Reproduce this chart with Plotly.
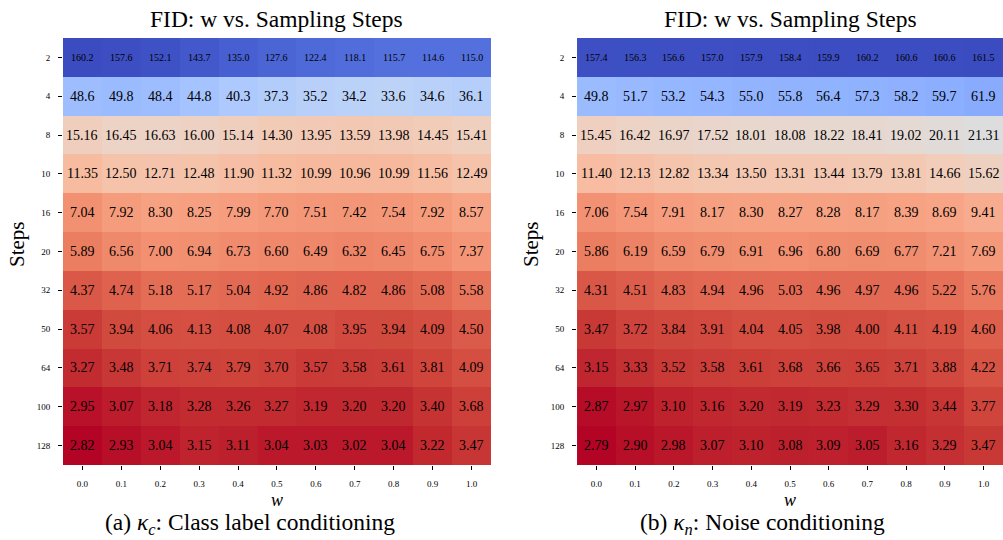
import numpy as np
import plotly.graph_objects as go

w_values = ["0.0", "0.1", "0.2", "0.3", "0.4", "0.5", "0.6", "0.7", "0.8", "0.9", "1.0"]
steps = ["2", "4", "8", "10", "16", "20", "32", "50", "64", "100", "128"]

fid_class = [
    [160.2, 157.6, 152.1, 143.7, 135.0, 127.6, 122.4, 118.1, 115.7, 114.6, 115.0],
    [48.6, 49.8, 48.4, 44.8, 40.3, 37.3, 35.2, 34.2, 33.6, 34.6, 36.1],
    [15.16, 16.45, 16.63, 16.00, 15.14, 14.30, 13.95, 13.59, 13.98, 14.45, 15.41],
    [11.35, 12.50, 12.71, 12.48, 11.90, 11.32, 10.99, 10.96, 10.99, 11.56, 12.49],
    [7.04, 7.92, 8.30, 8.25, 7.99, 7.70, 7.51, 7.42, 7.54, 7.92, 8.57],
    [5.89, 6.56, 7.00, 6.94, 6.73, 6.60, 6.49, 6.32, 6.45, 6.75, 7.37],
    [4.37, 4.74, 5.18, 5.17, 5.04, 4.92, 4.86, 4.82, 4.86, 5.08, 5.58],
    [3.57, 3.94, 4.06, 4.13, 4.08, 4.07, 4.08, 3.95, 3.94, 4.09, 4.50],
    [3.27, 3.48, 3.71, 3.74, 3.79, 3.70, 3.57, 3.58, 3.61, 3.81, 4.09],
    [2.95, 3.07, 3.18, 3.28, 3.26, 3.27, 3.19, 3.20, 3.20, 3.40, 3.68],
    [2.82, 2.93, 3.04, 3.15, 3.11, 3.04, 3.03, 3.02, 3.04, 3.22, 3.47],
]

fid_noise = [
    [157.4, 156.3, 156.6, 157.0, 157.9, 158.4, 159.9, 160.2, 160.6, 160.6, 161.5],
    [49.8, 51.7, 53.2, 54.3, 55.0, 55.8, 56.4, 57.3, 58.2, 59.7, 61.9],
    [15.45, 16.42, 16.97, 17.52, 18.01, 18.08, 18.22, 18.41, 19.02, 20.11, 21.31],
    [11.40, 12.13, 12.82, 13.34, 13.50, 13.31, 13.44, 13.79, 13.81, 14.66, 15.62],
    [7.06, 7.54, 7.91, 8.17, 8.30, 8.27, 8.28, 8.17, 8.39, 8.69, 9.41],
    [5.86, 6.19, 6.59, 6.79, 6.91, 6.96, 6.80, 6.69, 6.77, 7.21, 7.69],
    [4.31, 4.51, 4.83, 4.94, 4.96, 5.03, 4.96, 4.97, 4.96, 5.22, 5.76],
    [3.47, 3.72, 3.84, 3.91, 4.04, 4.05, 3.98, 4.00, 4.11, 4.19, 4.60],
    [3.15, 3.33, 3.52, 3.58, 3.61, 3.68, 3.66, 3.65, 3.71, 3.88, 4.22],
    [2.87, 2.97, 3.10, 3.16, 3.20, 3.19, 3.23, 3.29, 3.30, 3.44, 3.77],
    [2.79, 2.90, 2.98, 3.07, 3.10, 3.08, 3.09, 3.05, 3.16, 3.29, 3.47],
]

row_decimals = [1, 1, 2, 2, 2, 2, 2, 2, 2, 2, 2]

coolwarm = [
    (59, 76, 192), (68, 90, 204), (77, 104, 215), (87, 117, 225), (98, 130, 234),
    (108, 142, 241), (119, 154, 247), (130, 165, 251), (141, 176, 254), (152, 185, 255),
    (163, 194, 255), (174, 201, 253), (184, 208, 249), (194, 213, 244), (204, 217, 238),
    (213, 219, 230), (221, 221, 221), (229, 216, 209), (236, 211, 197), (241, 204, 185),
    (245, 196, 173), (247, 187, 160), (247, 177, 148), (247, 166, 135), (244, 154, 123),
    (241, 141, 111), (236, 127, 99), (229, 112, 88), (222, 96, 77), (213, 80, 66),
    (203, 62, 56), (192, 40, 47), (180, 4, 38),
]
n = len(coolwarm)
# reversed coolwarm: low (log) FID -> red, high -> blue
cscale = [[i / (n - 1), "rgb(%d,%d,%d)" % coolwarm[n - 1 - i]] for i in range(n)]

FONT = "Liberation Serif, Times New Roman, serif"

fig = go.Figure()

panels = [
    (fid_class, "x", "y", [0.0628, 0.4895]),
    (fid_noise, "x2", "y2", [0.5753, 1.0]),
]

ydom = [1 - 465 / 540, 1 - 38 / 540]
annotations = []


def paper_text(x_px, y_px, text, size, angle=0):
    return dict(x=x_px / 1003, y=1 - y_px / 540, xref="paper", yref="paper",
                xanchor="center", yanchor="middle", text=text, showarrow=False,
                textangle=angle, font=dict(family=FONT, size=size, color="black"))


for data, xa, ya, xdom in panels:
    z = np.log10(np.array(data))
    fig.add_trace(go.Heatmap(
        z=z, x=list(range(len(w_values))), y=list(range(len(steps))),
        colorscale=cscale, zmin=z.min(), zmax=z.max(), showscale=False,
        xaxis=xa, yaxis=ya, hoverinfo="skip", xgap=0, ygap=0,
    ))
    for i, row in enumerate(data):
        for j, v in enumerate(row):
            annotations.append(dict(
                x=j, y=i, xref=xa, yref=ya, showarrow=False,
                xanchor="center", yanchor="middle",
                text=f"{v:.{row_decimals[i]}f}",
                font=dict(family=FONT, size=10 if i == 0 else 14, color="black"),
            ))
    cx = (xdom[0] + xdom[1]) / 2 * 1003
    annotations.append(paper_text(cx, 19, "FID: w vs. Sampling Steps", 23.5))
    annotations.append(paper_text(cx, 500, "<i>w</i>", 18))

annotations.append(paper_text(250, 524, "(a) <i>κ</i><sub><i>c</i></sub>: Class label conditioning", 23.5))
annotations.append(paper_text(762, 524, "(b) <i>κ</i><sub><i>n</i></sub>: Noise conditioning", 23.5))
annotations.append(paper_text(17, 244, "Steps", 21, -90))
annotations.append(paper_text(531, 244, "Steps", 21, -90))

axis_common = dict(showgrid=False, zeroline=False, showline=False,
                   ticks="outside", ticklen=4, tickwidth=1, tickcolor="black",
                   tickfont=dict(family=FONT, size=9, color="black"))

fig.update_layout(
    width=1003, height=540, margin=dict(l=0, r=0, t=0, b=0),
    paper_bgcolor="white", plot_bgcolor="white",
    annotations=annotations,
    xaxis=dict(domain=[0.0628, 0.4895], anchor="y", tickmode="array",
               tickvals=list(range(len(w_values))), ticktext=w_values,
               range=[-0.5, 10.5], ticklabelstandoff=6, **axis_common),
    yaxis=dict(domain=ydom, anchor="x", tickmode="array",
               tickvals=list(range(len(steps))), ticktext=steps,
               range=[10.5, -0.5], ticklabelstandoff=6, **axis_common),
    xaxis2=dict(domain=[0.5753, 1.0], anchor="y2", tickmode="array",
                tickvals=list(range(len(w_values))), ticktext=w_values,
                range=[-0.5, 10.5], ticklabelstandoff=6, **axis_common),
    yaxis2=dict(domain=ydom, anchor="x2", tickmode="array",
                tickvals=list(range(len(steps))), ticktext=steps,
                range=[10.5, -0.5], ticklabelstandoff=6, **axis_common),
)

fig.write_html("out.html")
